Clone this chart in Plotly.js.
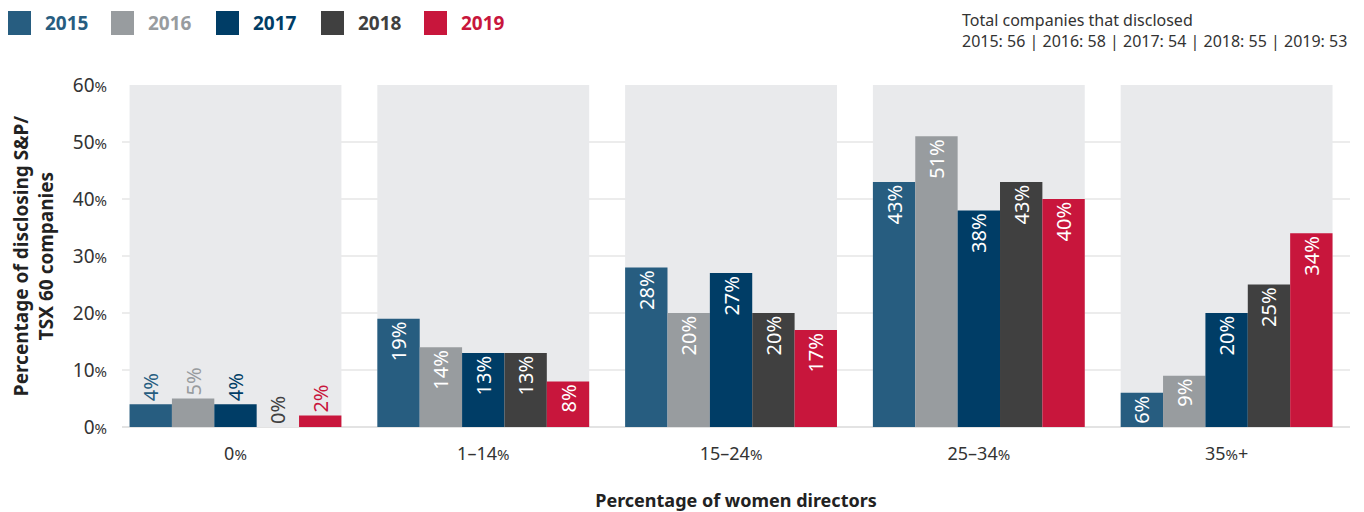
<!DOCTYPE html>
<html>
<head>
<meta charset="utf-8">
<script src="https://cdn.plot.ly/plotly-3.0.1.min.js"></script>
<style>html,body{margin:0;padding:0;background:#fff;}#chart{width:1364px;height:512px;}</style>
</head>
<body>
<div id="chart"></div>
<script>
// ---- data ----
const categories = ["0%", "1–14%", "15–24%", "25–34%", "35%+"];
const P = "<span style='font-size:15px'>%</span>";
const categoryLabels = ["0" + P, "1–14" + P, "15–24" + P, "25–34" + P, "35" + P + "+"];
const years = ["2015", "2016", "2017", "2018", "2019"];
const v2015 = [4, 19, 28, 43, 6];
const v2016 = [5, 14, 20, 51, 9];
const v2017 = [4, 13, 27, 38, 20];
const v2018 = [0, 13, 20, 43, 25];
const v2019 = [2, 8, 17, 40, 34];
const yTickVals = [0, 10, 20, 30, 40, 50, 60];
const disclosedCounts = [56, 58, 54, 55, 53];

const colors = ["#275d80", "#989c9f", "#003d66", "#404040", "#c8163c"];
const series = [v2015, v2016, v2017, v2018, v2019];
const FONT = "Noto Sans, Open Sans, sans-serif";

const traces = series.map((vals, i) => ({
  type: "bar",
  name: years[i],
  x: categories,
  y: vals,
  marker: {color: colors[i]},
  text: vals.map(v => v + "%"),
  textangle: -90,
  textposition: vals.map((v, j) => j === 0 ? "outside" : "inside"),
  insidetextanchor: "end",
  constraintext: "none",
  cliponaxis: false,
  textfont: {family: FONT, size: 20, color: vals.map((v, j) => j === 0 ? colors[i] : "#ffffff")},
  hoverinfo: "x+y",
  showlegend: false
}));

const shapes = categories.map((c, i) => ({
  type: "rect", xref: "x", yref: "y",
  x0: i - 0.4275, x1: i + 0.4275, y0: 0, y1: 60,
  fillcolor: "#e9eaec", line: {width: 0}, layer: "between"
}));

// legend (manual)
const legendX = [8, 111, 216, 321, 424];
const annotations = [];
years.forEach((y, i) => {
  shapes.push({
    type: "rect", xref: "paper", yref: "paper",
    x0: (legendX[i] - 122) / 1228, x1: (legendX[i] + 23 - 122) / 1228,
    y0: (512 - 85 - 35) / 342, y1: (512 - 85 - 11) / 342,
    fillcolor: colors[i], line: {width: 0}
  });
  annotations.push({
    xref: "paper", yref: "paper",
    x: (legendX[i] + 35 - 122) / 1228, y: (512 - 85 - 23) / 342,
    xanchor: "left", yanchor: "middle", showarrow: false,
    text: "<b>" + y + "</b>",
    font: {family: FONT, size: 19, color: colors[i]}
  });
});
annotations.push({
  xref: "paper", yref: "paper",
  x: (1349 - 122) / 1228, y: (512 - 85 - 7) / 342,
  xanchor: "right", yanchor: "top", align: "left", showarrow: false,
  text: "Total companies that disclosed<br>" + years.map((y, i) => y + ": " + disclosedCounts[i]).join(" | "),
  font: {family: FONT, size: 16, color: "#333333"}
});

const layout = {
  width: 1364, height: 512,
  margin: {l: 122, r: 14, t: 85, b: 85},
  paper_bgcolor: "#ffffff", plot_bgcolor: "#ffffff",
  barmode: "group", bargap: 0.145, bargroupgap: 0,
  font: {family: FONT, color: "#333333"},
  showlegend: false,
  xaxis: {
    type: "category", range: [-0.458, 4.498],
    tickvals: categories, ticktext: categoryLabels,
    tickfont: {family: FONT, size: 18, color: "#333333"},
    showgrid: false, zeroline: false, showline: false, ticks: "",
    ticklabelstandoff: 14,
    title: {text: "<b>Percentage of women directors</b>", font: {family: FONT, size: 18, color: "#222222"}, standoff: 34}
  },
  yaxis: {
    range: [0, 60],
    tickvals: yTickVals,
    ticktext: yTickVals.map(v => v + P),
    tickfont: {family: FONT, size: 19, color: "#333333"},
    showgrid: true, gridcolor: "#ececec", gridwidth: 1.5,
    zeroline: true, zerolinecolor: "#e3e3e3", zerolinewidth: 1.5,
    ticks: "", ticklen: 0, ticklabelstandoff: 14,
    title: {text: "<b>Percentage of disclosing S&P/<br>TSX 60 companies</b>", font: {family: FONT, size: 19, color: "#222222"}, standoff: 14}
  },
  shapes: shapes,
  annotations: annotations
};

Plotly.newPlot("chart", traces, layout, {displayModeBar: false, staticPlot: true});
</script>
</body>
</html>
